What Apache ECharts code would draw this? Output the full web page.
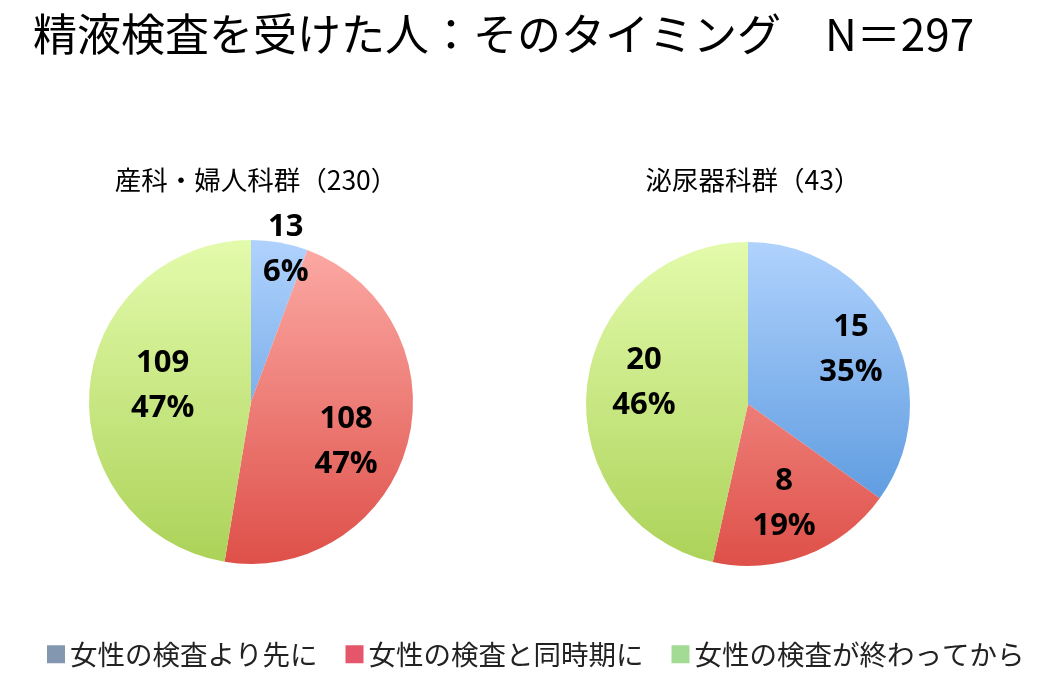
<!DOCTYPE html>
<html>
<head>
<meta charset="utf-8">
<script src="https://cdn.jsdelivr.net/npm/echarts@6/dist/echarts.min.js"></script>
<style>
  html, body { margin: 0; padding: 0; background: #fff; }
  #main { width: 1040px; height: 689px; }
</style>
</head>
<body>
<div id="main"></div>
<script>
// データ
var categories = ['女性の検査より先に', '女性の検査と同時期に', '女性の検査が終わってから']
var obgynValues = [13, 108, 109]
var uroValues = [15, 8, 20]
var groupNames = ['産科・婦人科群（230）', '泌尿器科群（43）']

var legendColors = ['#8497b0', '#e5566a', '#a3db95']
var gradTop = ['#b0d2fd', '#fdaba6', '#e3fbac']
var gradBottom = ['#4b8fd9', '#de5049', '#acd258']

var R = 162
var pies = [
  { cx: 251, cy: 402, values: obgynValues, offsets: [[16, -47], [-8, 12], [18, -8]] },
  { cx: 748, cy: 404, values: uroValues, offsets: [[8, -6], [-2, 0], [2, -10]] }
]

function grad(i, cy) {
  return new echarts.graphic.LinearGradient(0, cy - R, 0, cy + R, [
    { offset: 0, color: gradTop[i] },
    { offset: 1, color: gradBottom[i] }
  ], true)
}

var chart = echarts.init(document.getElementById('main'))
var series = []
pies.forEach(function (p) {
  // 扇形
  series.push({
    type: 'pie',
    center: [p.cx, p.cy],
    radius: [0, R],
    startAngle: 90,
    clockwise: true,
    animation: false,
    silent: true,
    label: { show: false },
    labelLine: { show: false },
    itemStyle: { borderWidth: 0 },
    data: p.values.map(function (v, i) {
      return { name: categories[i], value: v, itemStyle: { color: grad(i, p.cy) } }
    })
  })
  // ラベル用（透明）
  series.push({
    type: 'pie',
    center: [p.cx, p.cy],
    radius: [0, R * 1.28],
    startAngle: 90,
    clockwise: true,
    animation: false,
    silent: true,
    percentPrecision: 0,
    legendHoverLink: false,
    itemStyle: { color: 'rgba(0,0,0,0)' },
    label: {
      show: true,
      position: 'inside',
      formatter: '{c}\n{d}%',
      color: '#000',
      fontFamily: 'Open Sans',
      fontWeight: 'bold',
      fontSize: 31,
      lineHeight: 45
    },
    labelLine: { show: false },
    data: p.values.map(function (v, i) {
      return { name: categories[i] + ' ', value: v, label: { offset: p.offsets[i] } }
    })
  })
})

var option = {
  backgroundColor: '#fff',
  title: [
    {
      text: '精液検査を受けた人：そのタイミング　N＝297',
      left: 28, top: 7,
      textStyle: { fontFamily: 'Noto Sans CJK JP', fontWeight: 'normal', fontSize: 44, color: '#000' }
    },
    {
      text: groupNames[0], left: pies[0].cx, top: 162, textAlign: 'center',
      textStyle: { fontFamily: 'Noto Sans CJK JP', fontWeight: 'normal', fontSize: 26.5, color: '#000' }
    },
    {
      text: groupNames[1], left: pies[1].cx, top: 162, textAlign: 'center',
      textStyle: { fontFamily: 'Noto Sans CJK JP', fontWeight: 'normal', fontSize: 26.5, color: '#000' }
    }
  ],
  legend: {
    bottom: 16,
    left: 42,
    icon: 'rect',
    itemWidth: 18,
    itemHeight: 18,
    itemGap: 28,
    textStyle: { fontFamily: 'Noto Sans CJK JP', fontSize: 27.5, color: '#222' },
    data: categories.map(function (c, i) {
      return { name: c, itemStyle: { color: legendColors[i] } }
    })
  },
  series: series
}
option && chart.setOption(option)
</script>
</body>
</html>
